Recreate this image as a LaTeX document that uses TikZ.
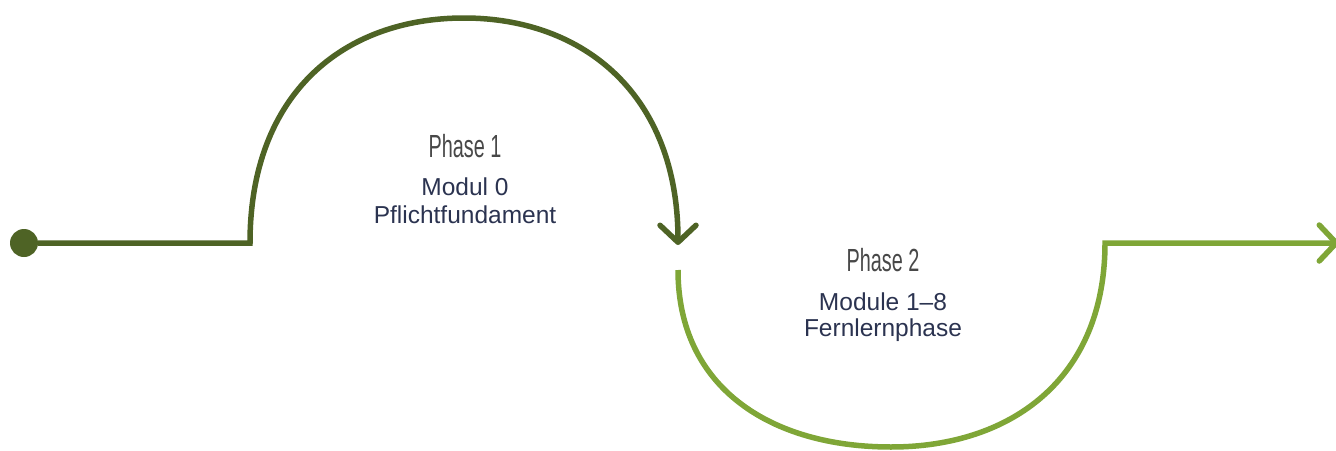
\documentclass[tikz,border=0pt]{standalone}
\usepackage{fontspec}
\setmainfont{Liberation Sans}
\newfontfamily\phasefont[FakeStretch=0.62]{Liberation Sans}
\usetikzlibrary{arrows.meta}
\definecolor{darkgreen}{HTML}{4E6325}
\definecolor{lightgreen}{HTML}{7FA637}
\definecolor{phasegray}{HTML}{484848}
\definecolor{navy}{HTML}{2B3350}
\begin{document}
\begin{tikzpicture}[x=1pt,y=-1pt,
  flow/.style={line width=5.5pt, line join=miter},
  barb/.style={-{Straight Barb[length=17pt,width=36pt,line cap=round,line join=round]}},
  phase/.style={font=\phasefont\fontsize{32}{36}\selectfont, text=phasegray, inner sep=0pt, anchor=base},
  sub/.style={font=\fontsize{24.5}{30}\selectfont, text=navy, inner sep=0pt, anchor=base}]
\useasboundingbox (0,0) rectangle (1336,450);
% connectors
\node[circle, fill=darkgreen, minimum size=28pt, inner sep=0pt] (start) at (24,243) {};
\coordinate (c1) at (250,243);
\coordinate (top1) at (464,18);
\coordinate (end1) at (678,245);
\draw[flow, darkgreen, barb] (start) -- (c1) .. controls (250,93) and (344,18) .. (top1) .. controls (584,18) and (678,95) .. (end1);
\coordinate (s2) at (678,270);
\coordinate (bot2) at (891,447);
\coordinate (c2) at (1105,243);
\coordinate (end2) at (1339,243);
\draw[flow, lightgreen, barb] (s2) .. controls (678,388) and (771,447) .. (bot2) .. controls (1011,447) and (1105,379) .. (c2) -- (end2);
% texts
\node[phase] (p1) at (465,157) {Phase 1};
\node[sub] (m0) at (465,195) {Modul 0};
\node[sub] (pf) at (465,223) {Pflichtfundament};
\node[phase] (p2) at (883,271) {Phase 2};
\node[sub] (m18) at (883,310) {Module 1–8};
\node[sub] (fl) at (883,336) {Fernlernphase};
\end{tikzpicture}
\end{document}
